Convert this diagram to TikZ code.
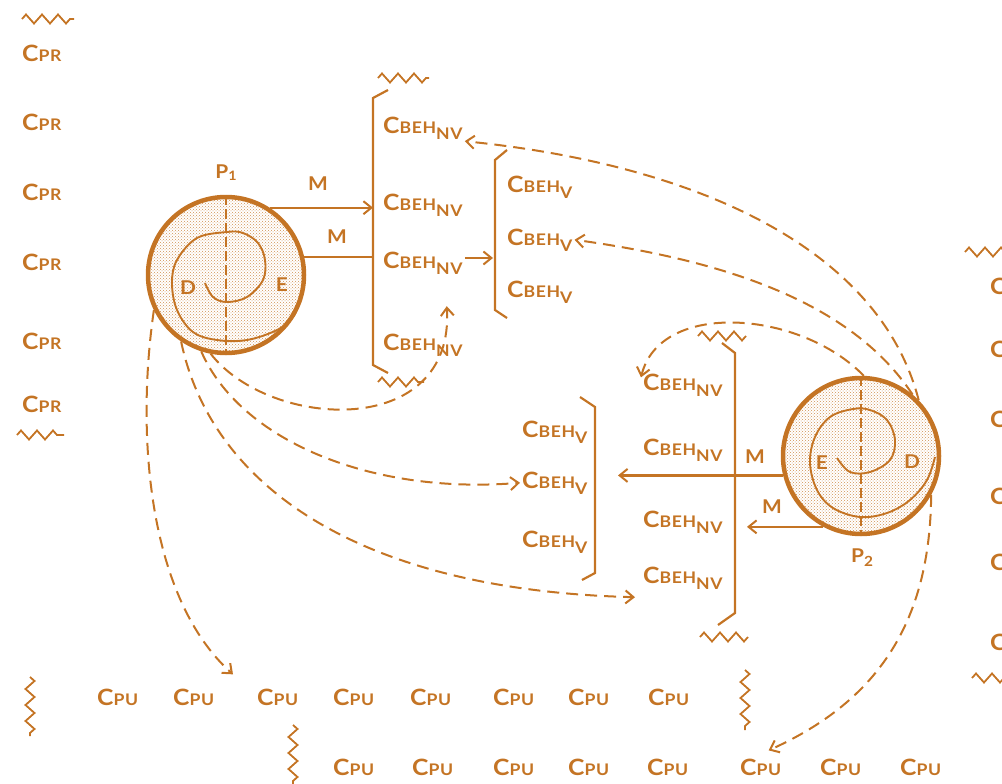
\documentclass[tikz,border=0pt]{standalone}
\usepackage{fontspec}
\setmainfont{Lato}[FakeStretch=1.1, LetterSpace=4]
\usetikzlibrary{arrows.meta, patterns, decorations.pathmorphing}

\definecolor{burnt}{RGB}{196,116,36}

\newcommand{\bigC}{{\fontsize{22.5}{23}\selectfont C}}
\newcommand{\smallcaps}[1]{{\fontsize{16}{17}\selectfont #1}}
\newcommand{\lowsub}[1]{\raisebox{-6pt}{\smallcaps{#1}}}
\newcommand{\cpr}{\bigC\smallcaps{PR}}
\newcommand{\cpu}{\bigC\smallcaps{PU}}
\newcommand{\behnv}{\bigC\smallcaps{BEH}\lowsub{NV}}
\newcommand{\behv}{\bigC\smallcaps{BEH}\lowsub{V}}

\begin{document}
\begin{tikzpicture}[x=1pt, y=-1pt,
      >={Straight Barb[length=8pt,width=13pt,line width=2pt]},
      every node/.style={text=burnt, font=\bfseries},
      lbl/.style={anchor=base west, inner sep=2pt},
      letter/.style={font=\bfseries\fontsize{19}{20}\selectfont, inner sep=1pt},
      proc/.style={circle, draw=burnt, line width=4.5pt, minimum size=156pt, inner sep=0pt,
        pattern=crosshatch dots, pattern color=burnt!80},
      ink/.style={draw=burnt, line width=2.2pt},
      dashy/.style={ink, line width=2pt, dash pattern=on 12pt off 7pt},
      axis/.style={draw=burnt, line width=1.5pt, dash pattern=on 10pt off 4pt},
      wiggle/.style={draw=burnt, line width=1.8pt, decorate,
        decoration={zigzag, segment length=16pt, amplitude=4.5pt}},
      spiral/.style={draw=burnt, line width=1.9pt}]

  \useasboundingbox (0,0) rectangle (1002,784);
  \clip (0,0) rectangle (1002,784);

  % left and right columns
  \foreach \y [count=\i] in {62,130,200,270,349,412}
    \node[lbl] (cpr\i) at (20,\y) {\cpr};
  \foreach \y [count=\i] in {294,357,427,504,570,650}
    \node[lbl] (cpx\i) at (988,\y) {\cpr};
  \draw[wiggle] (22,19) -- (74,19);
  \draw[wiggle] (17,435) -- (64,435);
  \draw[wiggle] (965,252) -- (1010,252);
  \draw[wiggle] (972,678) -- (1010,678);

  % processors
  \node[proc] (p1) at (226,275) {};
  \node[proc] (p2) at (861,456) {};
  \draw[axis] (p1.north) -- (p1.south);
  \draw[axis] (p2.north) -- (p2.south);
  \draw[spiral] plot[smooth, tension=0.6] coordinates {(205,283) (213,297) (227,302) (247,297)
    (263,280) (265,260) (258,243) (243,233) (227,232) (197,238) (177,260) (172,283) (177,310)
    (193,332) (217,340) (247,340) (277,330) (293,317) (300,300)};
  \draw[spiral] plot[smooth, tension=0.6] coordinates {(837,458) (850,472) (870,472) (890,460)
    (895,440) (887,420) (870,410) (853,409) (830,417) (815,437) (810,463) (817,490) (833,508)
    (860,517) (887,513) (910,500) (927,480) (935,457)};
  \node[letter] (p1lbl) at (226,173) {P\raisebox{-2pt}{\fontsize{13}{14}\selectfont 1}};
  \node[letter] (p2lbl) at (862,558) {P\raisebox{-4pt}{\fontsize{14}{14}\selectfont 2}};
  \node[letter] (d1) at (188,288) {D};
  \node[letter] (e1) at (282,285) {E};
  \node[letter] (e2) at (822,463) {E};
  \node[letter] (d2) at (912,462) {D};

  % behaviour groups
  \node[lbl] (nv1) at (381,133) {\behnv};
  \node[lbl] (nv2) at (381,210) {\behnv};
  \node[lbl] (nv3) at (381,268) {\behnv};
  \node[lbl] (nv4) at (381,350) {\behnv};
  \node[lbl] (v1) at (505,192) {\behv};
  \node[lbl] (v2) at (505,245) {\behv};
  \node[lbl] (v3) at (505,297) {\behv};
  \node[lbl] (rn1) at (641,390) {\behnv};
  \node[lbl] (rn2) at (641,455) {\behnv};
  \node[lbl] (rn3) at (641,527) {\behnv};
  \node[lbl] (rn4) at (641,583) {\behnv};
  \node[lbl] (lv1) at (520,437) {\behv};
  \node[lbl] (lv2) at (520,488) {\behv};
  \node[lbl] (lv3) at (520,547) {\behv};

  % brackets
  \draw[ink] (388,90) -- (373,98) -- (373,365) -- (388,373);
  \draw[ink] (507,150) -- (495,160) -- (495,310) -- (507,318);
  \draw[ink] (580,397) -- (595,407) -- (595,573) -- (582,580);
  \draw[ink] (722,343) -- (735,353) -- (735,613) -- (718,625);
  \coordinate (b1a) at (373,208);
  \coordinate (b1b) at (373,258);
  \coordinate (b2a) at (493,258);
  \coordinate (b3a) at (618,475);
  \coordinate (b4a) at (747,528);
  \draw[wiggle] (378,78) -- (429,78);
  \draw[wiggle] (378,382) -- (424,382);
  \draw[wiggle] (698,336) -- (746,336);
  \draw[wiggle] (700,637) -- (748,637);

  % M links
  \draw[ink,->] (p1.57) -- (p1.57 -| b1a);
  \draw[ink] (p1.13) -- (p1.13 -| b1b);
  \draw[ink,->] (nv3.east |- b2a) -- (b2a);
  \draw[ink,->] (p2.194) -- (p2.194 -| b3a);
  \draw[ink,->] (p2.242) -- (p2.242 -| b4a);
  \node[letter] (m1) at (318,184) {M};
  \node[letter] (m2) at (337,237) {M};
  \node[letter] (m3) at (755,457) {M};
  \node[letter] (m4) at (772,507) {M};

  % units
  \foreach \x [count=\i] in {97,173,257,333,410,493,568,648}
    \node[lbl] (cpua\i) at (\x-2,705) {\cpu};
  \foreach \x [count=\i] in {333,412,493,568,647,740,820,900}
    \node[lbl] (cpub\i) at (\x-2,775) {\cpu};
  \draw[wiggle] (30,677) -- (30,736);
  \draw[wiggle] (745,670) -- (745,730);
  \draw[wiggle] (293,725) -- (293,784);

  % dashed links
  \draw[dashy,->] (p1.206) .. controls (135,440) and (150,600) .. ([shift={(-22,-12)}]cpua3.north west);
  \draw[dashy,->] (p1.252) .. controls (240,440) and (370,495) .. (lv2.west);
  \draw[dashy,->] (p1.236) .. controls (210,480) and (350,590) .. ([shift={(-6,6)}]rn4.south west);
  \draw[dashy,->] (p1.259) .. controls (270,430) and (455,440) .. ([shift={(-18,30)}]nv3.south east);
  \draw[dashy,->] (p2.44) .. controls (880,250) and (700,165) .. (nv1.south east);
  \draw[dashy,->] (p2.50) .. controls (850,300) and (720,260) .. (v2.east);
  \draw[dashy,->] (p2.88) .. controls (800,310) and (660,300) .. ([yshift=-6]rn1.north west);
  \draw[dashy,->] (p2.-29) .. controls (930,620) and (880,700) .. ([shift={(8,-6)}]cpub6.north);
\end{tikzpicture}
\end{document}
